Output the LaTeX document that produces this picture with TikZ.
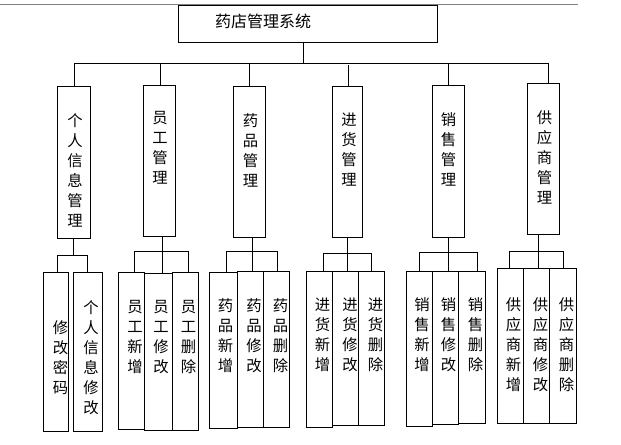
\documentclass[tikz,border=0pt]{standalone}
\usepackage{fontspec}
\setmainfont{Noto Sans CJK SC}
\usetikzlibrary{fit}
\tikzset{
  box/.style={draw, line width=0.75pt, inner sep=0pt},
  vtext/.style={anchor=north, inner sep=0pt, align=center, font=\fontsize{11.5}{15}\selectfont},
  ttext/.style={inner sep=0pt, font=\fontsize{12}{14}\selectfont},
  conn/.style={line width=0.75pt},
}
\begin{document}
\begin{tikzpicture}[x=0.75pt,y=-0.75pt]
\useasboundingbox (0,0) rectangle (621,444);
% top grey rule
\coordinate (g0) at (0,4);
\coordinate (g1) at (578,4);
\draw[line width=0.75pt, gray] (g0) -- (g1);
% root
\node[box, fit={(178,5) (437,42)}] (T) {};
\node[ttext] (Tt) at (263,21) {药店管理系统};
% level 2 boxes
\node[box, fit={(57,86) (90,238)}] (P1) {};
\node[box, fit={(143,85) (175,236)}] (P2) {};
\node[box, fit={(233,86) (265,237)}] (P3) {};
\node[box, fit={(332,86) (362,237)}] (P4) {};
\node[box, fit={(432,85) (464,237)}] (P5) {};
\node[box, fit={(527,83) (559,234)}] (P6) {};
\node[vtext] (P1t) at (75,113) {个\\人\\信\\息\\管\\理};
\node[vtext] (P2t) at (160,111) {员\\工\\管\\理};
\node[vtext] (P3t) at (250.5,113) {药\\品\\管\\理};
\node[vtext] (P4t) at (349,113) {进\\货\\管\\理};
\node[vtext] (P5t) at (448.5,112) {销\\售\\管\\理};
\node[vtext] (P6t) at (544.5,110) {供\\应\\商\\管\\理};
% bus
\coordinate (tj) at (303,63);
\coordinate (b0) at (74,63);
\coordinate (b6) at (548,63);
\coordinate (d2) at (160,63);
\coordinate (d3) at (249,63);
\coordinate (d4) at (348,65);
\coordinate (d5) at (448,63);
\draw[conn] (T.south -| tj) -- (tj);
\draw[conn] (b0) -- (b6);
\draw[conn] (b0) -- (b0 |- P1.north);
\draw[conn] (d2) -- (d2 |- P2.north);
\draw[conn] (d3) -- (d3 |- P3.north);
\draw[conn] (d4) -- (d4 |- P4.north);
\draw[conn] (d5) -- (d5 |- P5.north);
\draw[conn] (b6) -- (b6 |- P6.north);
% leaves group 1
\node[box, fit={(43,272) (68,431)}] (L11) {};
\node[box, fit={(73,272) (102,431)}] (L12) {};
\node[vtext] (L11t) at (60.5,320) {修\\改\\密\\码};
\node[vtext] (L12t) at (91,300) {个\\人\\信\\息\\修\\改};
\coordinate (j1) at (73,255);
\coordinate (j1a) at (57,255);
\coordinate (j1b) at (87,255);
\draw[conn] (P1.south -| j1) -- (j1);
\draw[conn] (j1a |- L11.north) -- (j1a) -- (j1b) -- (j1b |- L12.north);
% group 2
\node[box, fit={(118,272) (144,429)}] (L21) {};
\node[box, fit={(144,273) (172,430)}] (L22) {};
\node[box, fit={(172,272) (198,430)}] (L23) {};
\node[vtext] (L21t) at (135,300) {员\\工\\新\\增};
\node[vtext] (L22t) at (161,300) {员\\工\\修\\改};
\node[vtext] (L23t) at (188.5,300) {员\\工\\删\\除};
\coordinate (j2) at (162,251);
\coordinate (j2a) at (134,251);
\coordinate (j2b) at (188,251);
\draw[conn] (P2.south -| j2) -- (j2 |- L22.north);
\draw[conn] (j2a |- L21.north) -- (j2a) -- (j2b) -- (j2b |- L23.north);
% group 3
\node[box, fit={(209,272) (237,428)}] (L31) {};
\node[box, fit={(237,271) (263,427)}] (L32) {};
\node[box, fit={(263,271) (289,427)}] (L33) {};
\node[vtext] (L31t) at (225.5,298) {药\\品\\新\\增};
\node[vtext] (L32t) at (254,298) {药\\品\\修\\改};
\node[vtext] (L33t) at (280.5,298) {药\\品\\删\\除};
\coordinate (j3) at (252,251);
\coordinate (j3a) at (226,251);
\coordinate (j3b) at (277,251);
\draw[conn] (P3.south -| j3) -- (j3 |- L32.north);
\draw[conn] (j3a |- L31.north) -- (j3a) -- (j3b) -- (j3b |- L33.north);
% group 4
\node[box, fit={(306,271) (332,427)}] (L41) {};
\node[box, fit={(332,271) (358,425)}] (L42) {};
\node[box, fit={(358,271) (384,425)}] (L43) {};
\node[vtext] (L41t) at (322.5,298) {进\\货\\新\\增};
\node[vtext] (L42t) at (350,298) {进\\货\\修\\改};
\node[vtext] (L43t) at (375.5,298) {进\\货\\删\\除};
\coordinate (j4) at (347,253);
\coordinate (j4a) at (323,253);
\coordinate (j4b) at (371,253);
\draw[conn] (P4.south -| j4) -- (j4 |- L42.north);
\draw[conn] (j4a |- L41.north) -- (j4a) -- (j4b) -- (j4b |- L43.north);
% group 5
\node[box, fit={(406,271) (432,426)}] (L51) {};
\node[box, fit={(432,271) (458,424)}] (L52) {};
\node[box, fit={(458,271) (485,423)}] (L53) {};
\node[vtext] (L51t) at (422,297) {销\\售\\新\\增};
\node[vtext] (L52t) at (448.5,297) {销\\售\\修\\改};
\node[vtext] (L53t) at (475.5,297) {销\\售\\删\\除};
\coordinate (j5) at (448,252);
\coordinate (j5a) at (419,252);
\coordinate (j5b) at (477,252);
\draw[conn] (P5.south -| j5) -- (j5 |- L52.north);
\draw[conn] (j5a |- L51.north) -- (j5a) -- (j5b) -- (j5b |- L53.north);
% group 6
\node[box, fit={(497,268) (523,423)}] (L61) {};
\node[box, fit={(523,268) (549,423)}] (L62) {};
\node[box, fit={(549,268) (576,423)}] (L63) {};
\node[vtext] (L61t) at (513.5,297) {供\\应\\商\\新\\增};
\node[vtext] (L62t) at (540.5,297) {供\\应\\商\\修\\改};
\node[vtext] (L63t) at (566.5,297) {供\\应\\商\\删\\除};
\coordinate (j6) at (538,251);
\coordinate (j6a) at (509,251);
\coordinate (j6b) at (563,251);
\draw[conn] (P6.south -| j6) -- (j6 |- L62.north);
\draw[conn] (j6a |- L61.north) -- (j6a) -- (j6b) -- (j6b |- L63.north);
\end{tikzpicture}
\end{document}
